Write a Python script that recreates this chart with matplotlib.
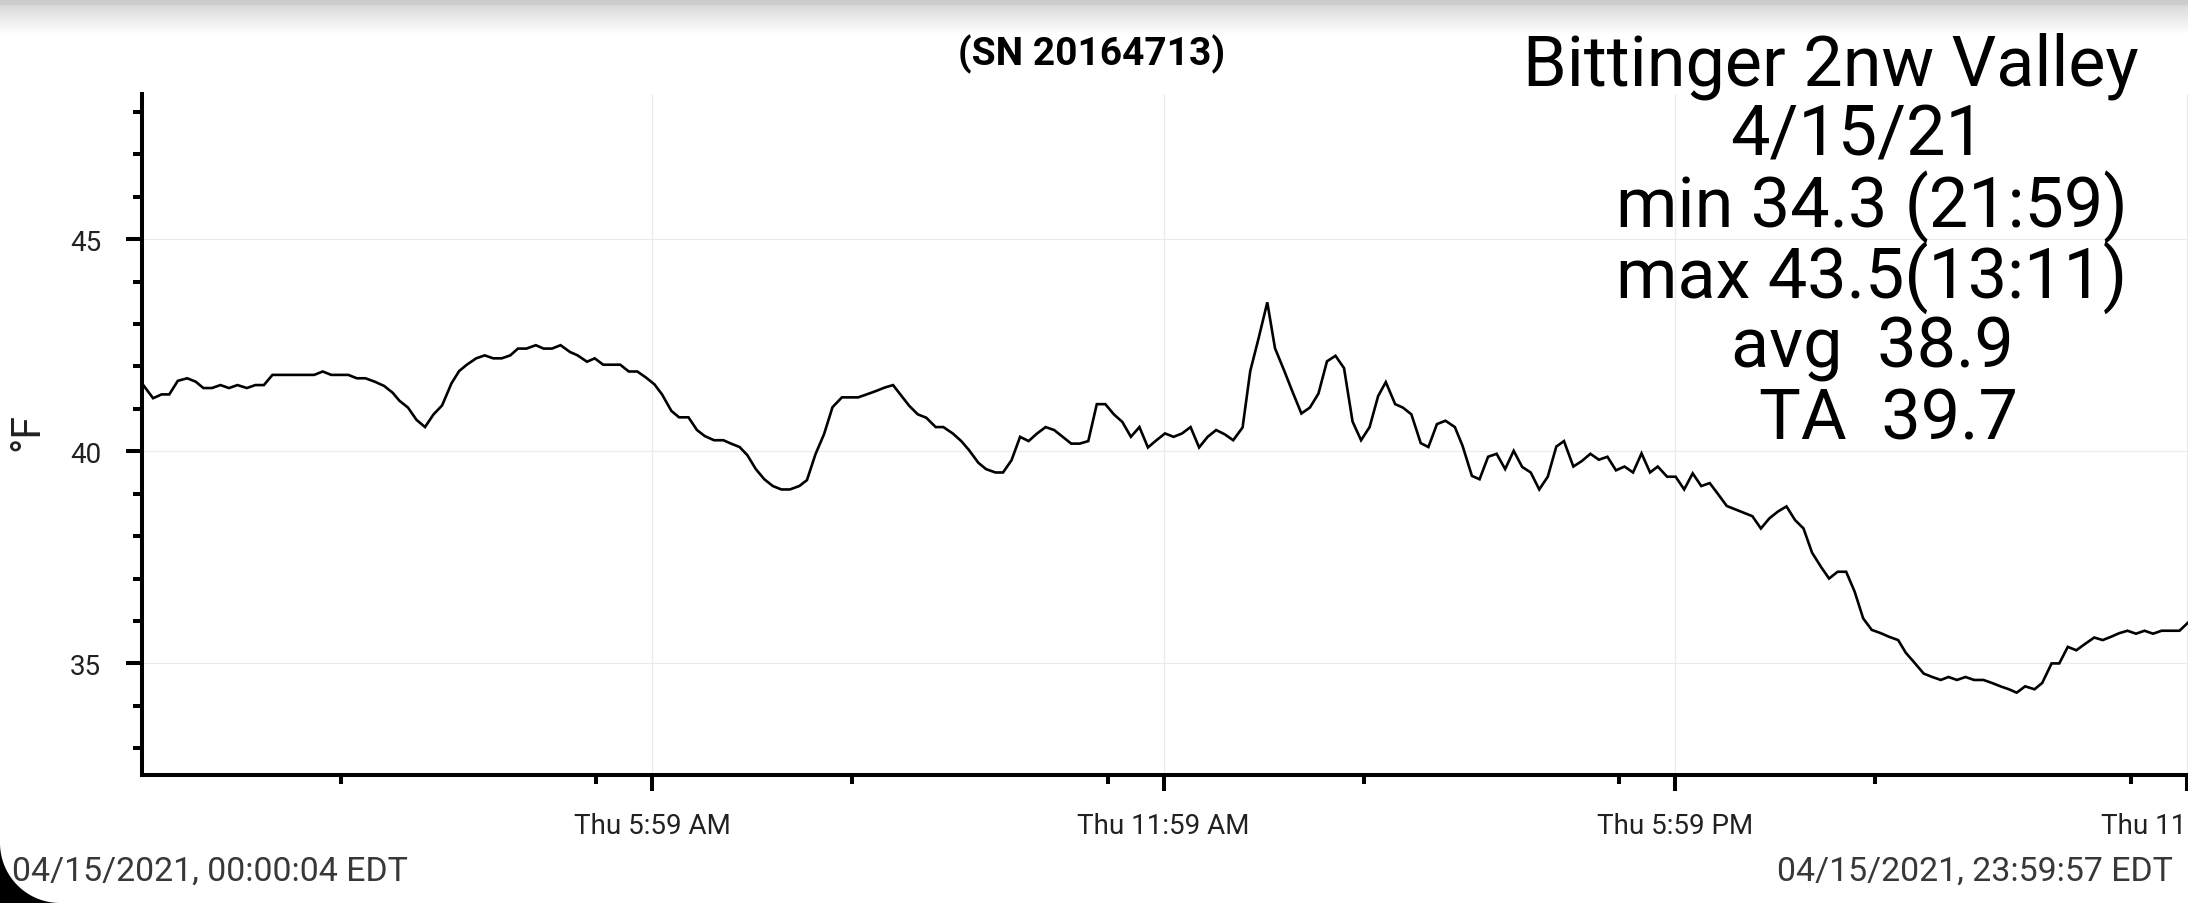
import matplotlib
matplotlib.use("Agg")
import matplotlib.pyplot as plt
import numpy as np
from matplotlib.patches import Polygon

plt.rcParams["font.family"] = ["Roboto", "DejaVu Sans"]

# hours since midnight (04/15/2021), temperature in deg F
hours = [
    0.00, 0.13, 0.23, 0.32, 0.42, 0.53, 0.63, 0.72, 0.82, 0.92, 1.02, 1.12, 1.23, 1.33, 1.43,
    1.53, 2.02, 2.12, 2.22, 2.42, 2.52, 2.62, 2.73, 2.84, 2.94, 3.02, 3.12, 3.22, 3.32, 3.42,
    3.52, 3.63, 3.72, 3.81, 3.92, 4.02, 4.12, 4.22, 4.32, 4.41, 4.51, 4.62, 4.71, 4.81, 4.91,
    5.02, 5.11, 5.22, 5.31, 5.41, 5.61, 5.71, 5.81, 5.91, 6.01, 6.10, 6.21, 6.30, 6.41,
    6.51, 6.60, 6.71, 6.82, 6.91, 7.01, 7.10, 7.20, 7.30, 7.40, 7.50, 7.60, 7.71, 7.80, 7.90,
    8.00, 8.10, 8.21, 8.40, 8.50, 8.61, 8.71, 8.81, 8.91, 9.00, 9.10, 9.20, 9.31, 9.40, 9.51,
    9.61, 9.70, 9.81, 9.90, 10.01, 10.10, 10.20, 10.30, 10.40, 10.50, 10.60, 10.70, 10.80,
    10.90, 11.00, 11.10, 11.20, 11.30, 11.40, 11.50, 11.60, 11.70, 11.80, 11.90, 12.00, 12.10,
    12.20, 12.30, 12.40, 12.50, 12.60, 12.70, 12.80,
    12.91, 13.00, 13.10, 13.20, 13.29, 13.40, 13.50, 13.60, 13.70, 13.80, 13.90, 14.00, 14.10,
    14.20, 14.30, 14.40, 14.50, 14.59, 14.70, 14.79, 14.89, 15.00, 15.09, 15.19, 15.29, 15.40,
    15.49, 15.60, 15.69, 15.79, 15.89, 15.99, 16.09, 16.19, 16.29, 16.39, 16.49, 16.59, 16.68,
    16.79, 16.89, 16.99, 17.09, 17.19, 17.29, 17.39, 17.49, 17.59, 17.69, 17.78, 17.89, 17.99,
    18.09, 18.19, 18.29, 18.39, 18.48, 18.59, 18.69, 18.79, 18.89, 18.99, 19.09, 19.19, 19.29,
    19.39, 19.49, 19.59, 19.70, 19.79, 19.89, 19.99, 20.09, 20.19, 20.29, 20.40, 20.49, 20.60,
    20.69, 20.79, 20.90, 21.00, 21.10, 21.19, 21.29, 21.39, 21.49, 21.60, 21.70, 21.80, 21.90,
    21.99, 22.09, 22.20, 22.29, 22.40, 22.49, 22.59, 22.69, 22.80, 22.90, 23.00, 23.10, 23.19,
    23.29, 23.39, 23.49, 23.59, 23.69, 23.90, 24.00,
]
temps_f = [
    41.60, 41.25, 41.34, 41.34, 41.66, 41.72, 41.64, 41.49, 41.49, 41.56, 41.49, 41.56, 41.49, 41.56, 41.56,
    41.80, 41.80, 41.88, 41.80, 41.80, 41.72, 41.72, 41.64, 41.54, 41.38, 41.19, 41.03, 40.74, 40.57, 40.87,
    41.08, 41.60, 41.89, 42.04, 42.19, 42.26, 42.19, 42.19, 42.26, 42.42, 42.42, 42.50, 42.42, 42.42, 42.50,
    42.34, 42.26, 42.11, 42.19, 42.04, 42.04, 41.88, 41.88, 41.74, 41.58, 41.34, 40.95, 40.80, 40.80,
    40.50, 40.36, 40.26, 40.26, 40.18, 40.10, 39.91, 39.58, 39.34, 39.18, 39.10, 39.10, 39.18, 39.32, 39.93,
    40.40, 41.04, 41.27, 41.27, 41.34, 41.42, 41.50, 41.56, 41.30, 41.07, 40.87, 40.79, 40.57, 40.57, 40.42,
    40.24, 40.03, 39.73, 39.58, 39.50, 39.50, 39.79, 40.34, 40.24, 40.42, 40.57, 40.50, 40.34,
    40.18, 40.18, 40.24, 41.11, 41.11, 40.87, 40.69, 40.34, 40.57, 40.09, 40.26, 40.42, 40.34,
    40.42, 40.57, 40.09, 40.34, 40.50, 40.40, 40.26,
    40.56, 41.89, 42.68, 43.51, 42.43, 41.89, 41.38, 40.89, 41.03, 41.36, 42.12, 42.25, 41.96,
    40.70, 40.26, 40.57, 41.30, 41.63, 41.11, 41.03, 40.87, 40.19, 40.10, 40.64, 40.72, 40.57,
    40.13, 39.42, 39.34, 39.87, 39.94, 39.58, 40.01, 39.63, 39.50, 39.10, 39.40, 40.11, 40.24,
    39.64, 39.77, 39.94, 39.80, 39.87, 39.55, 39.64, 39.50, 39.95, 39.50, 39.64, 39.40, 39.40,
    39.10, 39.48, 39.18, 39.25, 39.01, 38.71, 38.63, 38.55, 38.47, 38.18, 38.42, 38.58, 38.70,
    38.38, 38.18, 37.61, 37.26, 37.00, 37.16, 37.16, 36.69, 36.06, 35.79, 35.71, 35.63, 35.55,
    35.25, 35.02, 34.76, 34.68, 34.61, 34.68, 34.61, 34.68, 34.61, 34.61, 34.54, 34.46, 34.39,
    34.31, 34.46, 34.39, 34.54, 35.00, 35.00, 35.39, 35.31, 35.47, 35.61, 35.55, 35.63, 35.71,
    35.77, 35.70, 35.77, 35.70, 35.77, 35.77, 35.96,
]

major_hours = [5.983, 11.983, 17.983, 23.983]
major_labels = ["Thu 5:59 AM", "Thu 11:59 AM", "Thu 5:59 PM", "Thu 11:59 PM"]
minor_hours = [2.33, 5.33, 8.33, 11.33, 14.33, 17.33, 20.33, 23.33]
y_major = [35, 40, 45]
y_minor = [33, 34, 36, 37, 38, 39, 41, 42, 43, 44, 46, 47, 48]

serial_text = "(SN 20164713)"
info_lines = [
    "Bittinger 2nw Valley",
    "4/15/21",
    "min 34.3 (21:59)",
    "max 43.5(13:11)",
    "avg  38.9",
    "TA  39.7",
]
start_label = "04/15/2021, 00:00:04 EDT"
end_label = "04/15/2021, 23:59:57 EDT"

W, H = 2188, 904
fig = plt.figure(figsize=(W / 100, H / 100), dpi=100)
fig.patch.set_facecolor("white")

ax = fig.add_axes([142 / W, 1 - 776 / H, 1 - 142 / W, (776 - 95) / H])
ax.plot(hours, temps_f, color="black", lw=1.9, solid_joinstyle="miter")
ax.set_xlim(0, 24)
ax.set_ylim(32.37, 48.42)

for s in ["top", "right"]:
    ax.spines[s].set_visible(False)
for s in ["left", "bottom"]:
    ax.spines[s].set_linewidth(2.9)

ax.set_xticks(major_hours, major_labels)
ax.set_xticks(minor_hours, minor=True)
ax.set_yticks(y_major, [str(v) for v in y_major])
ax.set_yticks(y_minor, minor=True)

ax.tick_params(axis="both", which="major", length=11.5, width=2.9,
               labelsize=20, labelcolor="#212121")
ax.tick_params(axis="both", which="minor", length=6.3, width=2.9)
ax.tick_params(axis="x", which="major", pad=15.5)
ax.tick_params(axis="y", which="major", pad=18)
ax.grid(True, which="major", color="#ebebeb", lw=0.8)
ax.set_axisbelow(True)

fig.text(27 / W, 1 - 432 / H, "°F", rotation=90, ha="center", va="center",
         fontsize=29.5, color="#212121")

fig.text(1092 / W, 1 - 65 / H, serial_text, ha="center", va="baseline",
         fontsize=28, fontweight="bold", color="black")

info_x = [1831, 1858, 1872, 1872, 1872, 1888]
info_y = [85, 156, 227, 298, 368, 439]
for txt, x, y in zip(info_lines, info_x, info_y):
    fig.text(x / W, 1 - y / H, txt, ha="center", va="baseline",
             fontsize=50.5, color="black")

fig.text(12 / W, 1 - 881 / H, start_label, ha="left", va="baseline",
         fontsize=24.4, color="#383838")
fig.text(2173 / W, 1 - 881 / H, end_label, ha="right", va="baseline",
         fontsize=24.4, color="#383838")

# screenshot shadow at the top
top = fig.add_axes([0, 1 - 36 / H, 1, 36 / H])
grad = np.concatenate([np.full(6, 0.80), np.linspace(0.85, 1.0, 30)]).reshape(-1, 1)
top.imshow(grad, cmap="gray", vmin=0, vmax=1, aspect="auto")
top.axis("off")

# rounded screen corner, bottom left
R = 60
th = np.linspace(np.pi, 1.5 * np.pi, 40)
pts = [(0, 0)] + [((R + R * np.cos(t)) / W, (R + R * np.sin(t)) / H) for t in th] + [(R / W, 0)]
fig.add_artist(Polygon(pts, closed=True, transform=fig.transFigure,
                       facecolor="black", edgecolor="none"))

fig.savefig("out.png", dpi=100)
